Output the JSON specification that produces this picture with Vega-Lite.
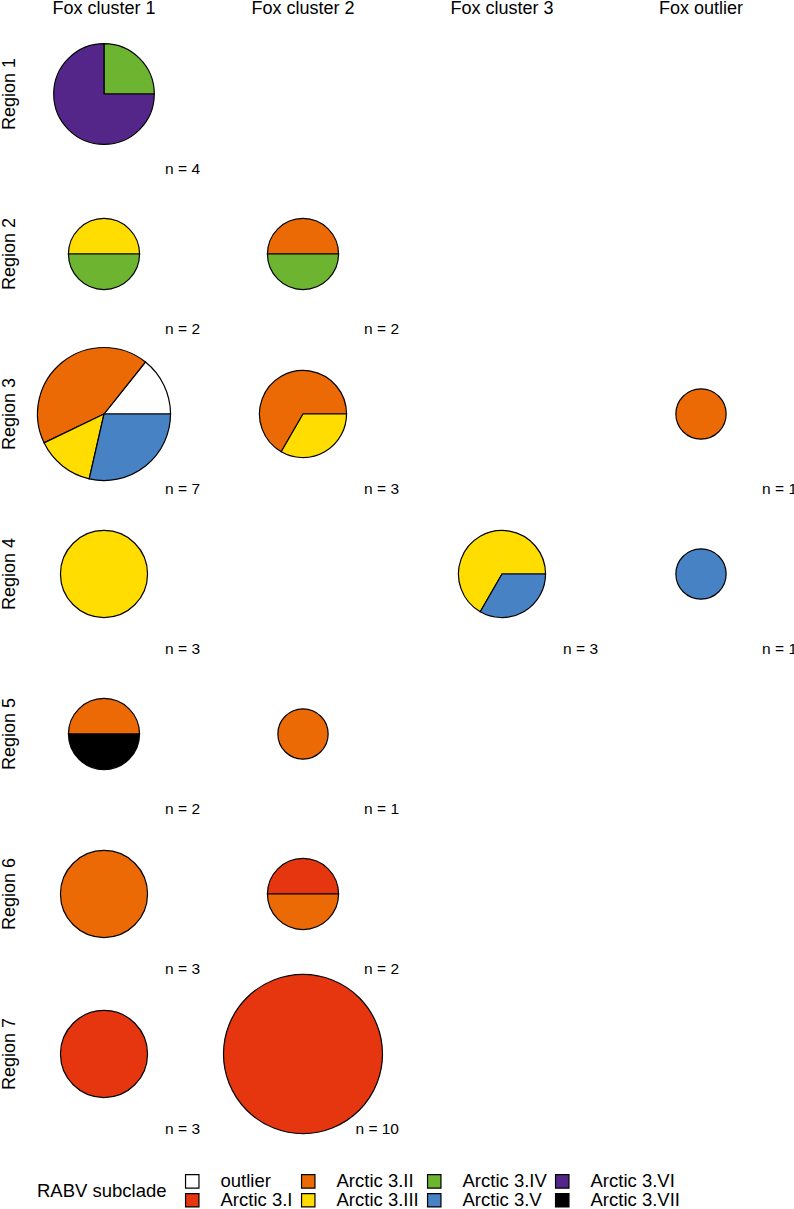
{
  "$schema": "https://vega.github.io/schema/vega-lite/v6.json",
  "padding": {"left": 0, "top": 0, "right": 0, "bottom": 0},
  "bounds": "flush",
  "data": {"values": [
    {"region": "Region 1", "cluster": "Fox cluster 1", "subclade": "Arctic 3.IV", "k": 4, "count": 1},
    {"region": "Region 1", "cluster": "Fox cluster 1", "subclade": "Arctic 3.VI", "k": 6, "count": 3},
    {"region": "Region 2", "cluster": "Fox cluster 1", "subclade": "Arctic 3.III", "k": 3, "count": 1},
    {"region": "Region 2", "cluster": "Fox cluster 1", "subclade": "Arctic 3.IV", "k": 4, "count": 1},
    {"region": "Region 2", "cluster": "Fox cluster 2", "subclade": "Arctic 3.II", "k": 2, "count": 1},
    {"region": "Region 2", "cluster": "Fox cluster 2", "subclade": "Arctic 3.IV", "k": 4, "count": 1},
    {"region": "Region 3", "cluster": "Fox cluster 1", "subclade": "outlier", "k": 0, "count": 1},
    {"region": "Region 3", "cluster": "Fox cluster 1", "subclade": "Arctic 3.II", "k": 2, "count": 3},
    {"region": "Region 3", "cluster": "Fox cluster 1", "subclade": "Arctic 3.III", "k": 3, "count": 1},
    {"region": "Region 3", "cluster": "Fox cluster 1", "subclade": "Arctic 3.V", "k": 5, "count": 2},
    {"region": "Region 3", "cluster": "Fox cluster 2", "subclade": "Arctic 3.II", "k": 2, "count": 2},
    {"region": "Region 3", "cluster": "Fox cluster 2", "subclade": "Arctic 3.III", "k": 3, "count": 1},
    {"region": "Region 3", "cluster": "Fox outlier", "subclade": "Arctic 3.II", "k": 2, "count": 1},
    {"region": "Region 4", "cluster": "Fox cluster 1", "subclade": "Arctic 3.III", "k": 3, "count": 3},
    {"region": "Region 4", "cluster": "Fox cluster 3", "subclade": "Arctic 3.III", "k": 3, "count": 2},
    {"region": "Region 4", "cluster": "Fox cluster 3", "subclade": "Arctic 3.V", "k": 5, "count": 1},
    {"region": "Region 4", "cluster": "Fox outlier", "subclade": "Arctic 3.V", "k": 5, "count": 1},
    {"region": "Region 5", "cluster": "Fox cluster 1", "subclade": "Arctic 3.II", "k": 2, "count": 1},
    {"region": "Region 5", "cluster": "Fox cluster 1", "subclade": "Arctic 3.VII", "k": 7, "count": 1},
    {"region": "Region 5", "cluster": "Fox cluster 2", "subclade": "Arctic 3.II", "k": 2, "count": 1},
    {"region": "Region 6", "cluster": "Fox cluster 1", "subclade": "Arctic 3.II", "k": 2, "count": 3},
    {"region": "Region 6", "cluster": "Fox cluster 2", "subclade": "Arctic 3.I", "k": 1, "count": 1},
    {"region": "Region 6", "cluster": "Fox cluster 2", "subclade": "Arctic 3.II", "k": 2, "count": 1},
    {"region": "Region 7", "cluster": "Fox cluster 1", "subclade": "Arctic 3.I", "k": 1, "count": 3},
    {"region": "Region 7", "cluster": "Fox cluster 2", "subclade": "Arctic 3.I", "k": 1, "count": 10}
  ]},
  "transform": [
    {"joinaggregate": [{"op": "sum", "field": "count", "as": "n"}], "groupby": ["region", "cluster"]}
  ],
  "facet": {
    "row": {"field": "region", "type": "nominal", "title": null,
      "header": {"labelOrient": "left", "labelAngle": -90, "labelFontSize": 18, "labelFont": "Liberation Sans", "labelPadding": -7.5, "labelColor": "black"}},
    "column": {"field": "cluster", "type": "nominal", "title": null,
      "header": {"labelOrient": "top", "labelFontSize": 18, "labelFont": "Liberation Sans", "labelPadding": 6, "labelColor": "black"}}
  },
  "spacing": {"row": 20, "column": 31},
  "spec": {
    "width": 168,
    "height": 140,
    "layer": [
      {
        "mark": {"type": "arc", "stroke": "black", "strokeWidth": 1.2, "opacity": 1},
        "encoding": {
          "theta": {"field": "count", "type": "quantitative", "stack": "normalize", "scale": {"range": [1.5707963268, -4.7123889804]}},
          "radius": {"field": "n", "type": "quantitative", "scale": {"type": "sqrt", "zero": true, "domain": [0, 10], "range": [0, 79.5]}},
          "color": {
            "field": "subclade", "type": "nominal",
            "scale": {
              "domain": ["outlier", "Arctic 3.I", "Arctic 3.II", "Arctic 3.III", "Arctic 3.IV", "Arctic 3.V", "Arctic 3.VI", "Arctic 3.VII"],
              "range": ["#FFFFFF", "#E5360F", "#EB6A06", "#FFDD00", "#6DB530", "#4682C4", "#54268A", "#000000"]
            },
            "legend": {
              "title": "RABV subclade",
              "values": ["outlier", "Arctic 3.II", "Arctic 3.IV", "Arctic 3.VI", "Arctic 3.I", "Arctic 3.III", "Arctic 3.V", "Arctic 3.VII"],
              "orient": "bottom",
              "direction": "horizontal",
              "columns": 4,
              "titleOrient": "left",
              "titlePadding": 16,
              "symbolType": "square",
              "symbolSize": 180,
              "symbolStrokeColor": "black",
              "symbolStrokeWidth": 1.2,
              "symbolOpacity": 1,
              "labelFontSize": 18.5,
              "titleFontSize": 18.5,
              "titleFontWeight": "normal",
              "labelFont": "Liberation Sans",
              "titleFont": "Liberation Sans",
              "labelColor": "black",
              "titleColor": "black",
              "labelOffset": 19,
              "labelLimit": 200,
              "columnPadding": 6,
              "rowPadding": 0,
              "padding": 17,
              "offset": 17
            }
          },
          "order": {"field": "k", "type": "quantitative", "sort": "ascending"}
        }
      },
      {
        "transform": [
          {"aggregate": [{"op": "max", "field": "n", "as": "n"}], "groupby": ["region", "cluster"]},
          {"calculate": "'n = ' + datum.n", "as": "label"}
        ],
        "mark": {"type": "text", "align": "right", "baseline": "middle", "dx": 12, "dy": 5, "fontSize": 15.5, "font": "Liberation Sans", "color": "black"},
        "encoding": {
          "x": {"datum": 1, "type": "quantitative", "scale": {"domain": [0, 1]}, "axis": null},
          "y": {"datum": 0, "type": "quantitative", "scale": {"domain": [0, 1]}, "axis": null},
          "text": {"field": "label", "type": "nominal"}
        }
      }
    ]
  },
  "config": {
    "view": {"stroke": null},
    "font": "Liberation Sans"
  }
}
